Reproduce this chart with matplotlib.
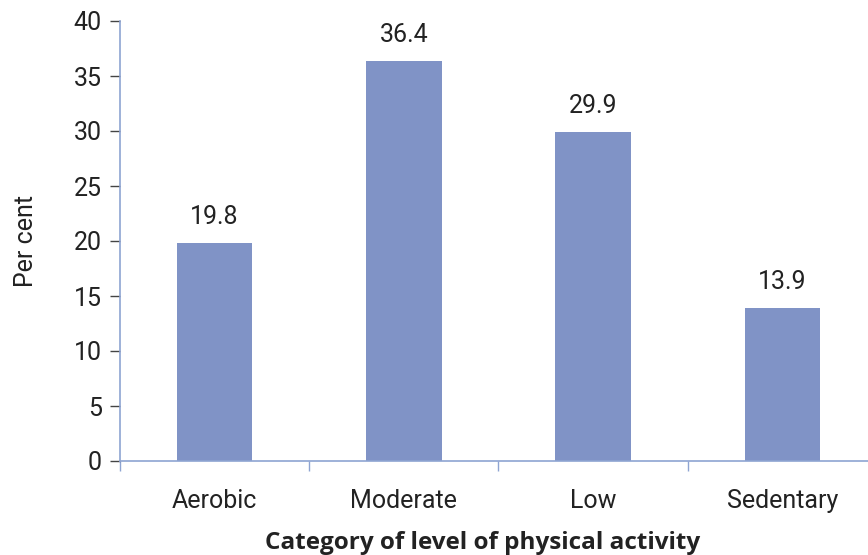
import matplotlib.pyplot as plt

categories = ['Aerobic', 'Moderate', 'Low', 'Sedentary']
values = [19.8, 36.4, 29.9, 13.9]
yticks = [0, 5, 10, 15, 20, 25, 30, 35, 40]

plt.rcParams['font.family'] = ['Roboto', 'DejaVu Sans']

bar_color = '#8093C6'
axis_color = '#8EA4D2'
text_color = '#222222'

fig = plt.figure(figsize=(8.68, 5.55), dpi=100)
# axes runs a little past the right edge, like the original
ax = fig.add_axes([120 / 868, 1 - 461 / 555, 757 / 868, 440 / 555])

x = list(range(len(categories)))
ax.bar(x, values, width=0.4, color=bar_color, zorder=2)
for xi, v in zip(x, values):
    ax.annotate(f'{v:.1f}', (xi, v), xytext=(0, 10), textcoords='offset points',
                ha='center', va='bottom', fontsize=18, color=text_color)

ax.set_xlim(-0.5, len(categories) - 0.5)
ax.set_ylim(0, 40)
ax.set_yticks(yticks)
ax.set_yticklabels([str(t) for t in yticks], fontsize=18, color=text_color)
ax.tick_params(axis='y', direction='out', length=7, width=1, color='#444444', pad=6)

ax.set_xticks(x)
ax.set_xticklabels(categories, fontsize=18, color=text_color)
ax.set_xticks([i - 0.5 for i in range(len(categories) + 1)], minor=True)
ax.tick_params(axis='x', which='major', length=0, pad=20)
ax.tick_params(axis='x', which='minor', direction='out', length=7, width=1, color=axis_color)

for side in ['top', 'right']:
    ax.spines[side].set_visible(False)
for side in ['left', 'bottom']:
    ax.spines[side].set_color(axis_color)
    ax.spines[side].set_linewidth(1.2)

ax.set_ylabel('Per cent', fontsize=18, color=text_color, labelpad=26)
fig.text(483 / 868, 1 - 543 / 555, 'Category of level of physical activity',
         ha='center', va='center', fontsize=17.5, fontweight='bold', color=text_color,
         family=['Open Sans', 'DejaVu Sans'])

fig.savefig('out.png', dpi=100)
